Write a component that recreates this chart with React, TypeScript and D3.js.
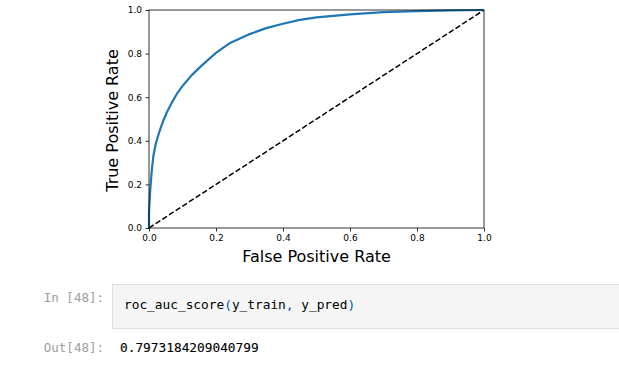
import React, { useEffect, useRef } from "react";
import * as d3 from "d3";

const fpr = [0, 0, 0.003, 0.008, 0.013, 0.02, 0.027, 0.035, 0.043, 0.053, 0.068, 0.083, 0.102, 0.127, 0.157, 0.2, 0.242, 0.296, 0.35, 0.4, 0.45, 0.5, 0.6, 0.7, 0.8, 0.9, 1.0];
const tpr = [0, 0.07, 0.16, 0.26, 0.33, 0.385, 0.422, 0.46, 0.493, 0.53, 0.575, 0.615, 0.655, 0.7, 0.745, 0.803, 0.849, 0.887, 0.917, 0.937, 0.955, 0.966, 0.98, 0.99, 0.995, 0.998, 1.0];
const diagonal = [0, 1];
const ticks = [0, 0.2, 0.4, 0.6, 0.8, 1.0];
const xLabel = "False Positive Rate";
const yLabel = "True Positive Rate";
const inPrompt = "In [48]:";
const outPrompt = "Out[48]:";
const outValue = "0.7973184209040799";

const W = 619, H = 365;
const M = { left: 149, top: 10, right: 484, bottom: 228 };

export default function App() {
  const ref = useRef<SVGSVGElement>(null);
  useEffect(() => {
    const svg = d3.select(ref.current);
    svg.selectAll("*").remove();
    const x = d3.scaleLinear().domain([0, 1]).range([M.left, M.right]);
    const y = d3.scaleLinear().domain([0, 1]).range([M.bottom, M.top]);
    const font = "DejaVu Sans, sans-serif";
    const mono = "DejaVu Sans Mono, monospace";

    svg.append("rect").attr("width", W).attr("height", H).attr("fill", "#fff");

    // diagonal
    svg.append("path")
      .datum(diagonal)
      .attr("d", d3.line<number>().x(d => x(d)).y(d => y(d)))
      .attr("fill", "none").attr("stroke", "#000").attr("stroke-width", 1.5)
      .attr("stroke-dasharray", "5.55,2.4");

    // ROC
    const pts = fpr.map((f, i) => [f, tpr[i]] as [number, number]);
    svg.append("path")
      .datum(pts)
      .attr("d", d3.line<[number, number]>().x(d => x(d[0])).y(d => y(d[1])))
      .attr("fill", "none").attr("stroke", "#1f77b4").attr("stroke-width", 2.2)
      .attr("stroke-linejoin", "round");

    // axes
    const xAxis = svg.append("g").attr("transform", `translate(0,${M.bottom})`)
      .call(d3.axisBottom(x).tickValues(ticks).tickFormat(d3.format(".1f")).tickSizeInner(3.5).tickSizeOuter(0).tickPadding(3.5));
    const yAxis = svg.append("g").attr("transform", `translate(${M.left},0)`)
      .call(d3.axisLeft(y).tickValues(ticks).tickFormat(d3.format(".1f")).tickSizeInner(3.5).tickSizeOuter(0).tickPadding(3.5));
    [xAxis, yAxis].forEach(g => {
      g.select(".domain").remove();
      g.selectAll("line").attr("stroke", "#000").attr("stroke-width", 0.8);
      g.selectAll("text").attr("fill", "#000").attr("font-family", font).attr("font-size", 9);
    });

    // frame
    svg.append("rect")
      .attr("x", M.left).attr("y", M.top)
      .attr("width", M.right - M.left).attr("height", M.bottom - M.top)
      .attr("fill", "none").attr("stroke", "#000").attr("stroke-width", 0.8);

    svg.append("text").attr("x", (M.left + M.right) / 2).attr("y", 261.5)
      .attr("text-anchor", "middle").attr("font-family", font).attr("font-size", 16).attr("fill", "#000")
      .text(xLabel);
    svg.append("text").attr("transform", `translate(118.3,${(M.top + M.bottom) / 2 + 1.5}) rotate(-90)`)
      .attr("text-anchor", "middle").attr("font-family", font).attr("font-size", 16).attr("fill", "#000")
      .text(yLabel);

    // notebook cell
    svg.append("rect").attr("x", 112.5).attr("y", 284.5).attr("width", 520).attr("height", 44)
      .attr("fill", "#f5f5f5").attr("stroke", "#e0e0e0").attr("stroke-width", 1);
    svg.append("text").attr("x", 104).attr("y", 302).attr("text-anchor", "end")
      .attr("font-family", mono).attr("font-size", 12.5).attr("fill", "#9e9e9e").text(inPrompt);
    const code = svg.append("text").attr("x", 124).attr("y", 309)
      .attr("font-family", mono).attr("font-size", 12.8).attr("fill", "#000");
    const parts: [string, string][] = [["roc_auc_score", "#000"], ["(", "#0055aa"], ["y_train", "#000"], [",", "#0055aa"], [" y_pred", "#000"], [")", "#0055aa"]];
    parts.forEach(([t, c]) => code.append("tspan").attr("fill", c).text(t));
    svg.append("text").attr("x", 104).attr("y", 352).attr("text-anchor", "end")
      .attr("font-family", mono).attr("font-size", 12.5).attr("fill", "#9e9e9e").text(outPrompt);
    svg.append("text").attr("x", 120).attr("y", 352)
      .attr("font-family", mono).attr("font-size", 12.8).attr("fill", "#000").attr("stroke", "#000").attr("stroke-width", 0.12).text(outValue);
  }, []);
  return (
    <svg ref={ref} width={W} height={H} style={{ position: "absolute", left: 0, top: 0, display: "block" }} />
  );
}
